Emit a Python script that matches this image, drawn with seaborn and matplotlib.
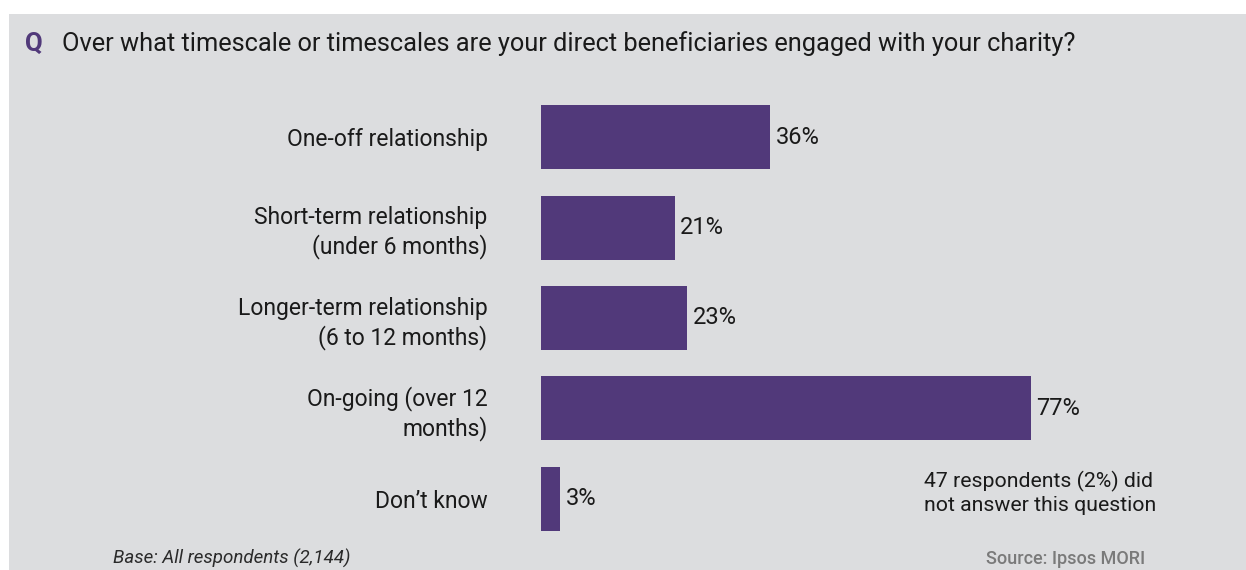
import matplotlib
matplotlib.use("Agg")
import matplotlib.pyplot as plt
import seaborn as sns
import pandas as pd
from matplotlib.patches import Rectangle

categories = ["One-off relationship",
              "Short-term relationship\n(under 6 months)",
              "Longer-term relationship\n(6 to 12 months)",
              "On-going (over 12\nmonths)",
              "Don\u2019t know"]
values = [36, 21, 23, 77, 3]
value_labels = ["36%", "21%", "23%", "77%", "3%"]

title = "Over what timescale or timescales are your direct beneficiaries engaged with your charity?"
note = "47 respondents (2%) did\nnot answer this question"
base = "Base: All respondents (2,144)"
source = "Source: Ipsos MORI"

sns.set_theme(style="white")
plt.rcParams['font.family'] = ['Roboto', 'DejaVu Sans']

W, H = 1246, 570
BG = "#DCDDDF"
PURPLE = "#51397A"

fig = plt.figure(figsize=(W / 100, H / 100), dpi=100, facecolor="white")
fig.patches.append(Rectangle((9 / W, 0), 1 - 9 / W, 1 - 14 / H, transform=fig.transFigure,
                             facecolor=BG, edgecolor="none", zorder=-10))

# axes: x from 541px (0%) to 1177px (100%); y from 92px to 544px from top
ax = fig.add_axes([541 / W, 1 - 544 / H, 636 / W, 452 / H])
ax.set_facecolor("none")
ax.set_zorder(5)

df = pd.DataFrame({"cat": categories, "val": values})
sns.barplot(data=df, x="val", y="cat", orient="h", color=PURPLE, saturation=1,
            width=0.706, linewidth=0, edgecolor="none", ax=ax)
ax.set_xlim(0, 100)
ax.set_ylim(4.5, -0.5)
for s in ax.spines.values():
    s.set_visible(False)
ax.set_xticks([])
ax.set_xlabel("")
ax.set_ylabel("")
ax.tick_params(axis="y", length=0, pad=38.5, labelsize=16.5)
for lbl in ax.get_yticklabels():
    lbl.set_color("#1a1a1a")
    lbl.set_linespacing(1.25)

for i, (v, t) in enumerate(zip(values, value_labels)):
    ax.text(v + 0.9, i, t, va="center", ha="left", fontsize=17, color="#1a1a1a")

fig.text(25 / W, 1 - 44 / H, "Q", fontsize=18.5, fontweight="bold", color=PURPLE, va="center")
fig.text(62 / W, 1 - 44 / H, title, fontsize=18.3, color="#1a1a1a", va="center")
fig.text(924 / W, 1 - 493 / H, note, fontsize=15.3, color="#1a1a1a", va="center",
         ha="left", linespacing=1.3)
fig.text(113 / W, 1 - 568 / H, base, fontsize=13.5, style="italic", color="#2a2a2a",
         va="bottom")
fig.text(1145 / W, 1 - 568 / H, source, fontsize=13, color="#7a7a7a", va="bottom",
         ha="right", fontweight="medium")

fig.savefig("out.png", dpi=100, facecolor="white")
